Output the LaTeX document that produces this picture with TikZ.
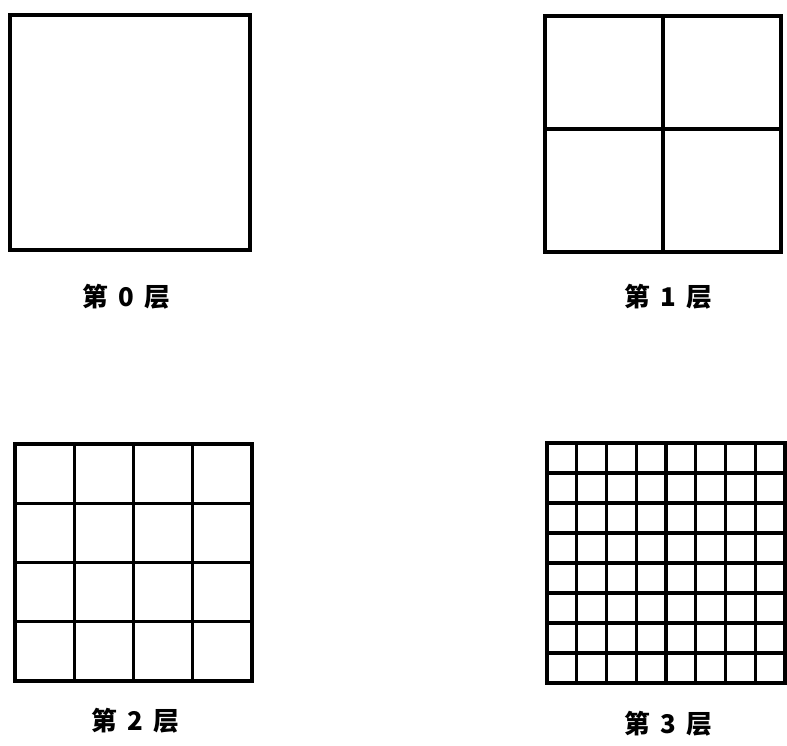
\documentclass[tikz,border=0pt]{standalone}
\usepackage{fontspec}
\newfontfamily\cjk{Noto Sans CJK SC}
\usetikzlibrary{positioning}

\begin{document}
\begin{tikzpicture}[x=0.03cm, y=-0.03cm,
    frame/.style={line width=3.2pt},
    cell/.style={line width=2.6pt},
    lbl/.style={font=\cjk\bfseries\fontsize{22}{22}\selectfont, inner sep=0pt}
]
\useasboundingbox (0,0) rectangle (787,745);

% layer 0
\draw[frame] (10,15) rectangle (250,250);
\node[lbl] (L0) at (126,297) {第\hspace{0.4em}0\hspace{0.4em}层};

% layer 1
\draw[frame] (545,16) rectangle (781,252);
\draw[cell] (663,16) -- (663,252);
\draw[cell] (545,129) -- (781,129);
\node[lbl] (L1) at (668,297) {第\hspace{0.4em}1\hspace{0.4em}层};

% layer 2
\draw[frame] (15,444) rectangle (252,681);
\foreach \i in {1,2,3} {
  \draw[cell] ({15+\i*237/4},444) -- ({15+\i*237/4},681);
  \draw[cell] (15,{444+\i*237/4}) -- (252,{444+\i*237/4});
}
\node[lbl] (L2) at (135,721) {第\hspace{0.4em}2\hspace{0.4em}层};

% layer 3
\draw[frame] (547,443) rectangle (785,683);
\foreach \i in {1,...,7} {
  \draw[cell] ({547+\i*238/8},443) -- ({547+\i*238/8},683);
  \draw[cell] (547,{443+\i*240/8}) -- (785,{443+\i*240/8});
}
\node[lbl] (L3) at (668,724) {第\hspace{0.4em}3\hspace{0.4em}层};
\end{tikzpicture}
\end{document}
